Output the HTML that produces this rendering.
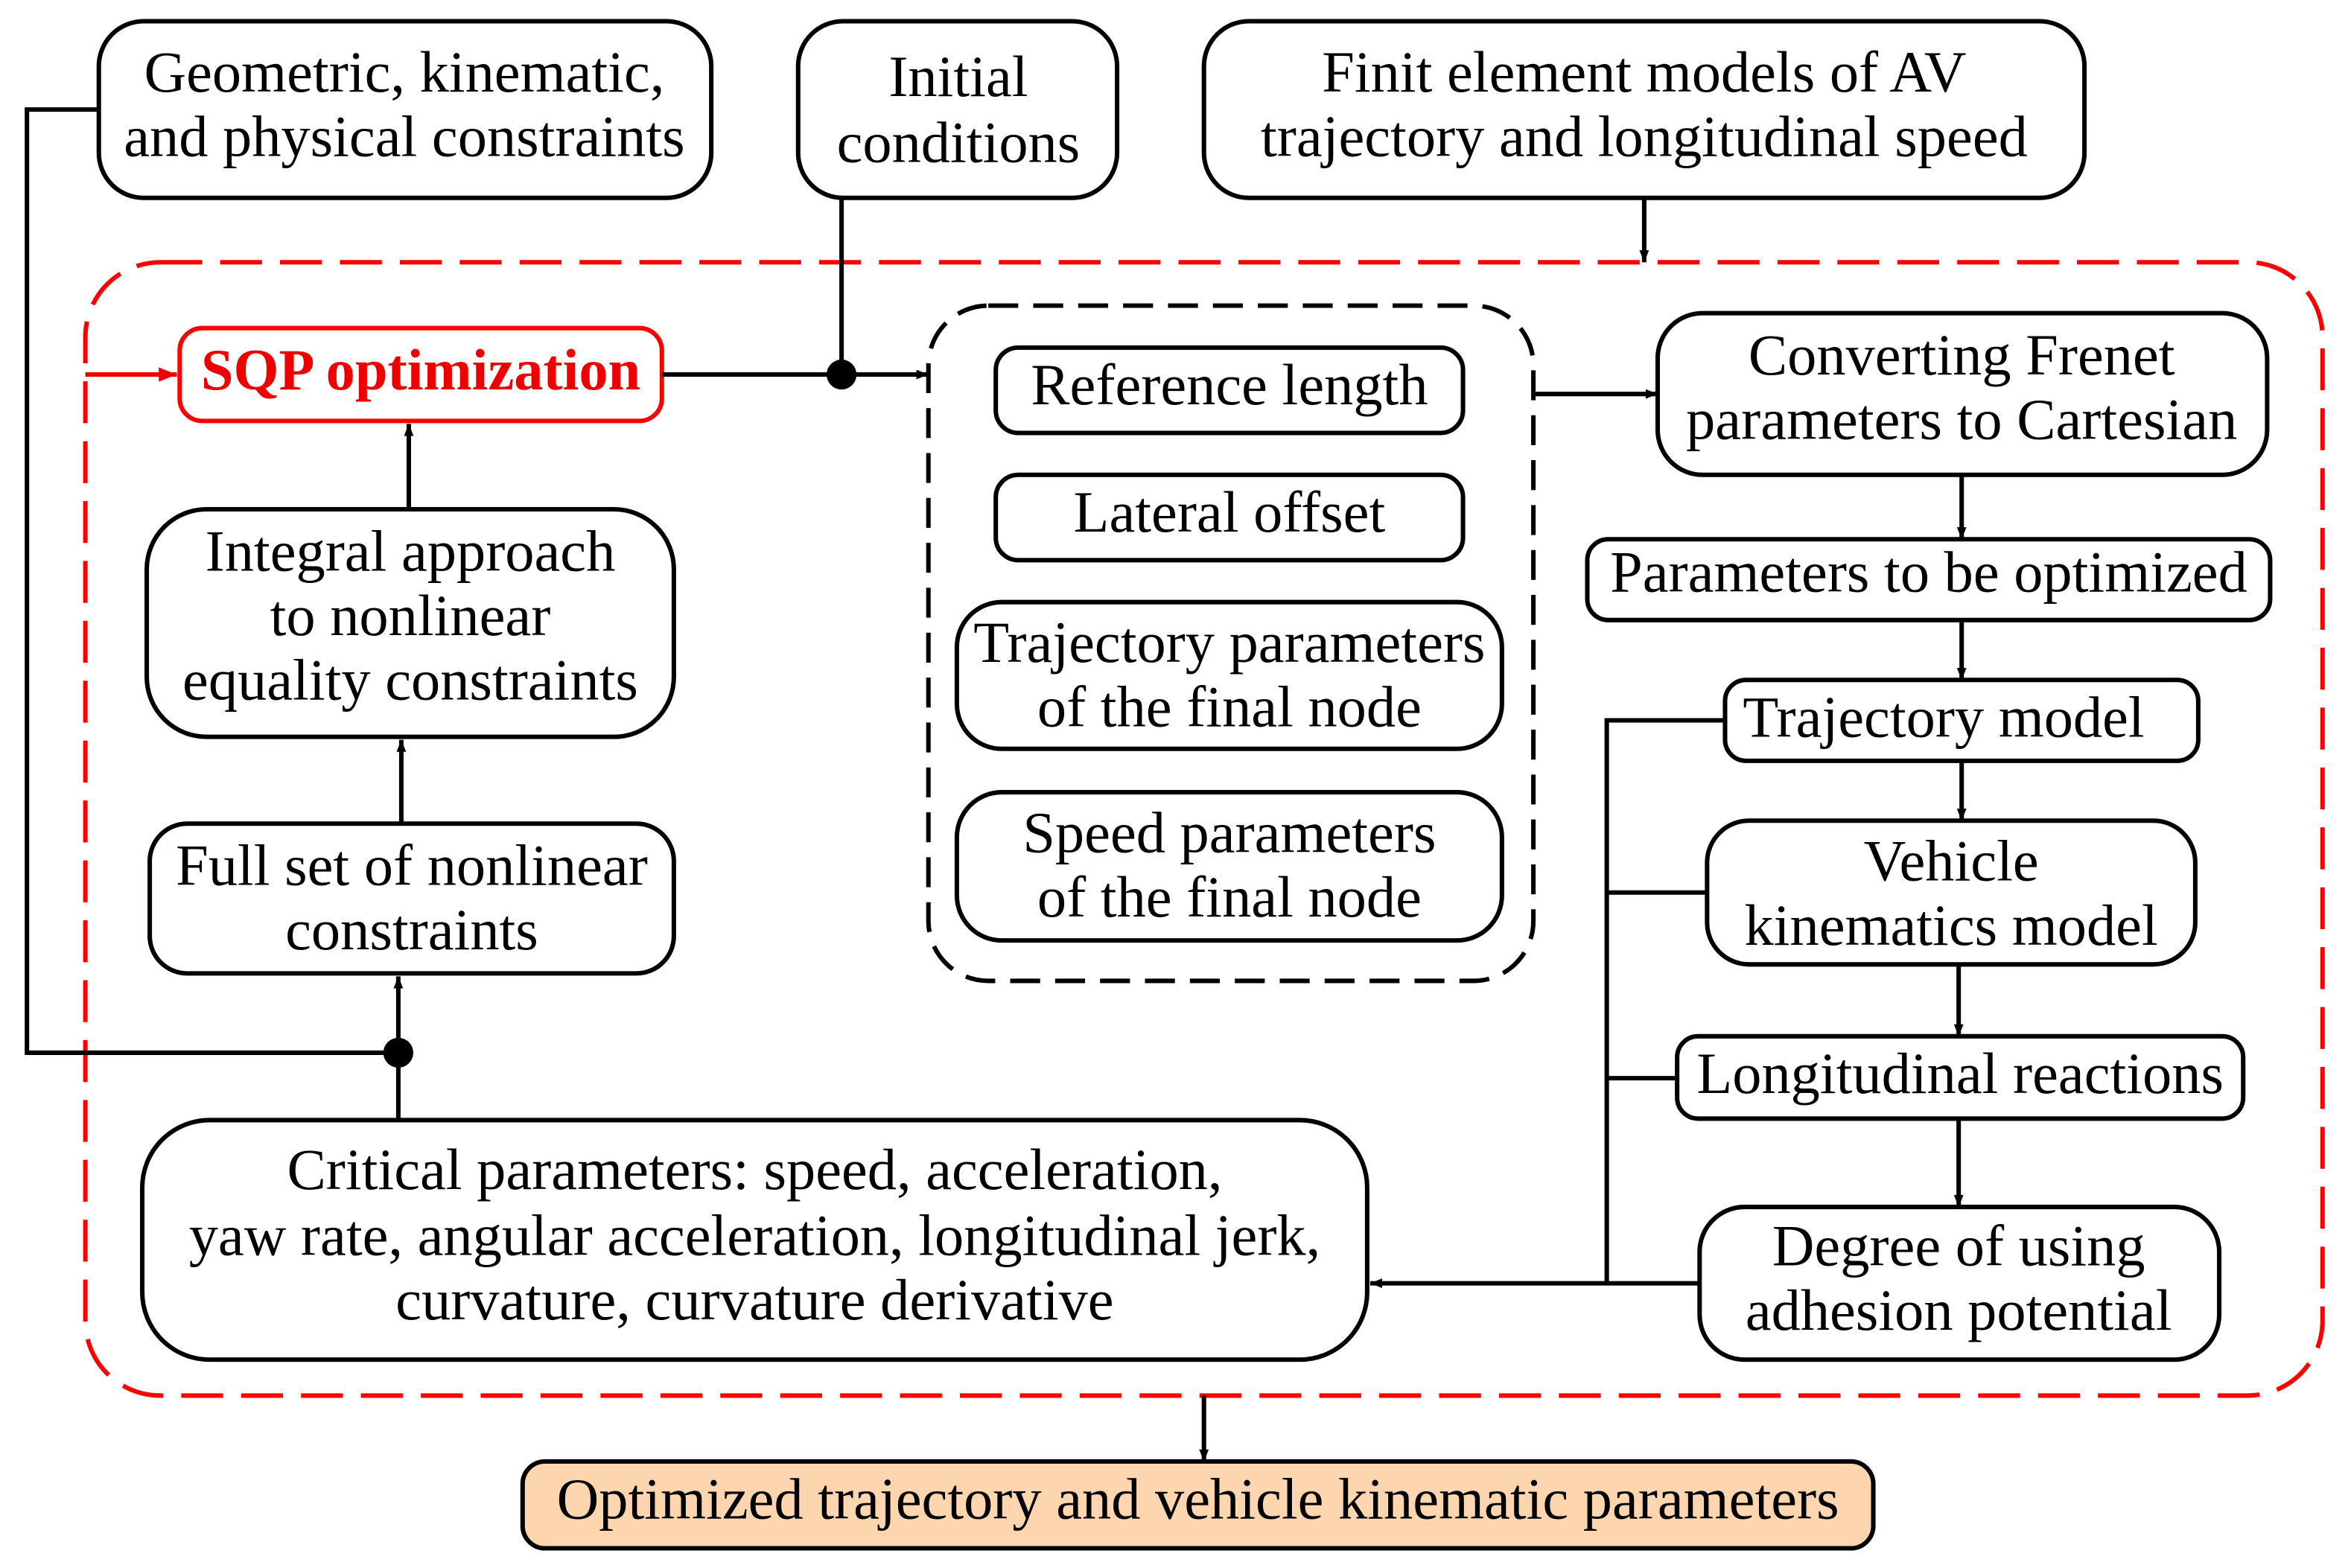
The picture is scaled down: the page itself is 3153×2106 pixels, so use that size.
<!DOCTYPE html>
<html><head><meta charset="utf-8"><style>
html,body{margin:0;padding:0;background:#fff;width:3153px;height:2106px;overflow:hidden}
svg{display:block}
text{font-family:"Liberation Serif",serif;font-size:39px;fill:#000;text-anchor:middle}
</style></head><body>
<svg width="3153" height="2106" viewBox="0 0 1568 1047" xmlns="http://www.w3.org/2000/svg">
<defs>
<marker id="a" viewBox="0 0 10 10" refX="10" refY="5" markerWidth="9" markerHeight="8" orient="auto-start-reverse" markerUnits="userSpaceOnUse"><path d="M0,1 L10,5 L0,9 z" fill="#000"/></marker>
<marker id="r" viewBox="0 0 10 10" refX="10" refY="5" markerWidth="14" markerHeight="12" orient="auto" markerUnits="userSpaceOnUse"><path d="M0,1 L10,5 L0,9 z" fill="#e00"/></marker>
</defs>
<g fill="none" stroke="#000" stroke-width="3">
<rect x="57" y="175" width="1494" height="757" rx="50" stroke="#f00" stroke-dasharray="28,12"/>
<rect x="620" y="204" width="404" height="451" rx="40" stroke-dasharray="20,10"/>
<rect x="66" y="14" width="409" height="118" rx="30"/>
<rect x="533" y="14" width="213" height="118" rx="30"/>
<rect x="804" y="14" width="588" height="118" rx="30"/>
<rect x="120" y="219" width="322" height="62" rx="15" stroke="#f00"/>
<rect x="98" y="340" width="352" height="152" rx="40"/>
<rect x="100" y="550" width="350" height="100" rx="25"/>
<rect x="95" y="748" width="818" height="160" rx="45"/>
<rect x="665" y="232" width="312" height="57" rx="15"/>
<rect x="665" y="317" width="312" height="57" rx="15"/>
<rect x="639" y="402" width="364" height="98" rx="30"/>
<rect x="639" y="529" width="364" height="99" rx="30"/>
<rect x="1107" y="209" width="407" height="108" rx="30"/>
<rect x="1060" y="360" width="456" height="54" rx="14"/>
<rect x="1152" y="454" width="316" height="54" rx="14"/>
<rect x="1140" y="548" width="326" height="96" rx="28"/>
<rect x="1120" y="692" width="378" height="55" rx="14"/>
<rect x="1135" y="806" width="347" height="102" rx="30"/>
<rect x="349" y="976" width="902" height="58" rx="15" fill="#fdd5ae"/>
<path d="M66,73 H18 V703 H266"/>
<path d="M266,748 V652" marker-end="url(#a)"/>
<path d="M268,550 V494" marker-end="url(#a)"/>
<path d="M273,340 V283" marker-end="url(#a)"/>
<path d="M442,250 H620" marker-end="url(#a)"/>
<path d="M562,132 V250"/>
<path d="M1098,132 V175" marker-end="url(#a)"/>
<path d="M1024,263 H1107" marker-end="url(#a)"/>
<path d="M1310,317 V360" marker-end="url(#a)"/>
<path d="M1310,414 V454" marker-end="url(#a)"/>
<path d="M1310,508 V548" marker-end="url(#a)"/>
<path d="M1308,644 V692" marker-end="url(#a)"/>
<path d="M1308,747 V806" marker-end="url(#a)"/>
<path d="M1152,481 H1073 V857"/>
<path d="M1140,596 H1073"/>
<path d="M1120,720 H1073"/>
<path d="M1135,857 H915" marker-end="url(#a)"/>
<path d="M804,932 V976" marker-end="url(#a)"/>
<path d="M57,250 H118" stroke="#e00" marker-end="url(#r)"/>
</g>
<circle cx="266" cy="703" r="10" fill="#000"/>
<circle cx="562" cy="250" r="10" fill="#000"/>
<text x="270" y="61">Geometric, kinematic,</text>
<text x="270" y="104">and physical constraints</text>
<text x="640" y="64">Initial</text>
<text x="640" y="108">conditions</text>
<text x="1098" y="61">Finit element models of  AV</text>
<text x="1098" y="104">trajectory and longitudinal speed</text>
<text x="281" y="260" style="fill:#e00;font-weight:bold">SQP optimization</text>
<text x="274" y="381">Integral approach</text>
<text x="274" y="424">to nonlinear</text>
<text x="274" y="467">equality constraints</text>
<text x="275" y="591">Full set of nonlinear</text>
<text x="275" y="634">constraints</text>
<text x="504" y="794">Critical parameters: speed, acceleration,</text>
<text x="504" y="838">yaw rate, angular acceleration, longitudinal jerk,</text>
<text x="504" y="881">curvature, curvature derivative</text>
<text x="821" y="270">Reference length</text>
<text x="821" y="355">Lateral offset</text>
<text x="821" y="442">Trajectory parameters</text>
<text x="821" y="485">of the final node</text>
<text x="821" y="569">Speed parameters</text>
<text x="821" y="612">of the final node</text>
<text x="1310" y="250">Converting Frenet</text>
<text x="1310" y="293">parameters to Cartesian</text>
<text x="1288" y="395">Parameters to be optimized</text>
<text x="1298" y="492">Trajectory model</text>
<text x="1303" y="588">Vehicle</text>
<text x="1303" y="631">kinematics model</text>
<text x="1309" y="730">Longitudinal reactions</text>
<text x="1308" y="845">Degree of using</text>
<text x="1308" y="888">adhesion potential</text>
<text x="800" y="1014">Optimized trajectory and vehicle kinematic parameters</text>
</svg>
</body></html>
